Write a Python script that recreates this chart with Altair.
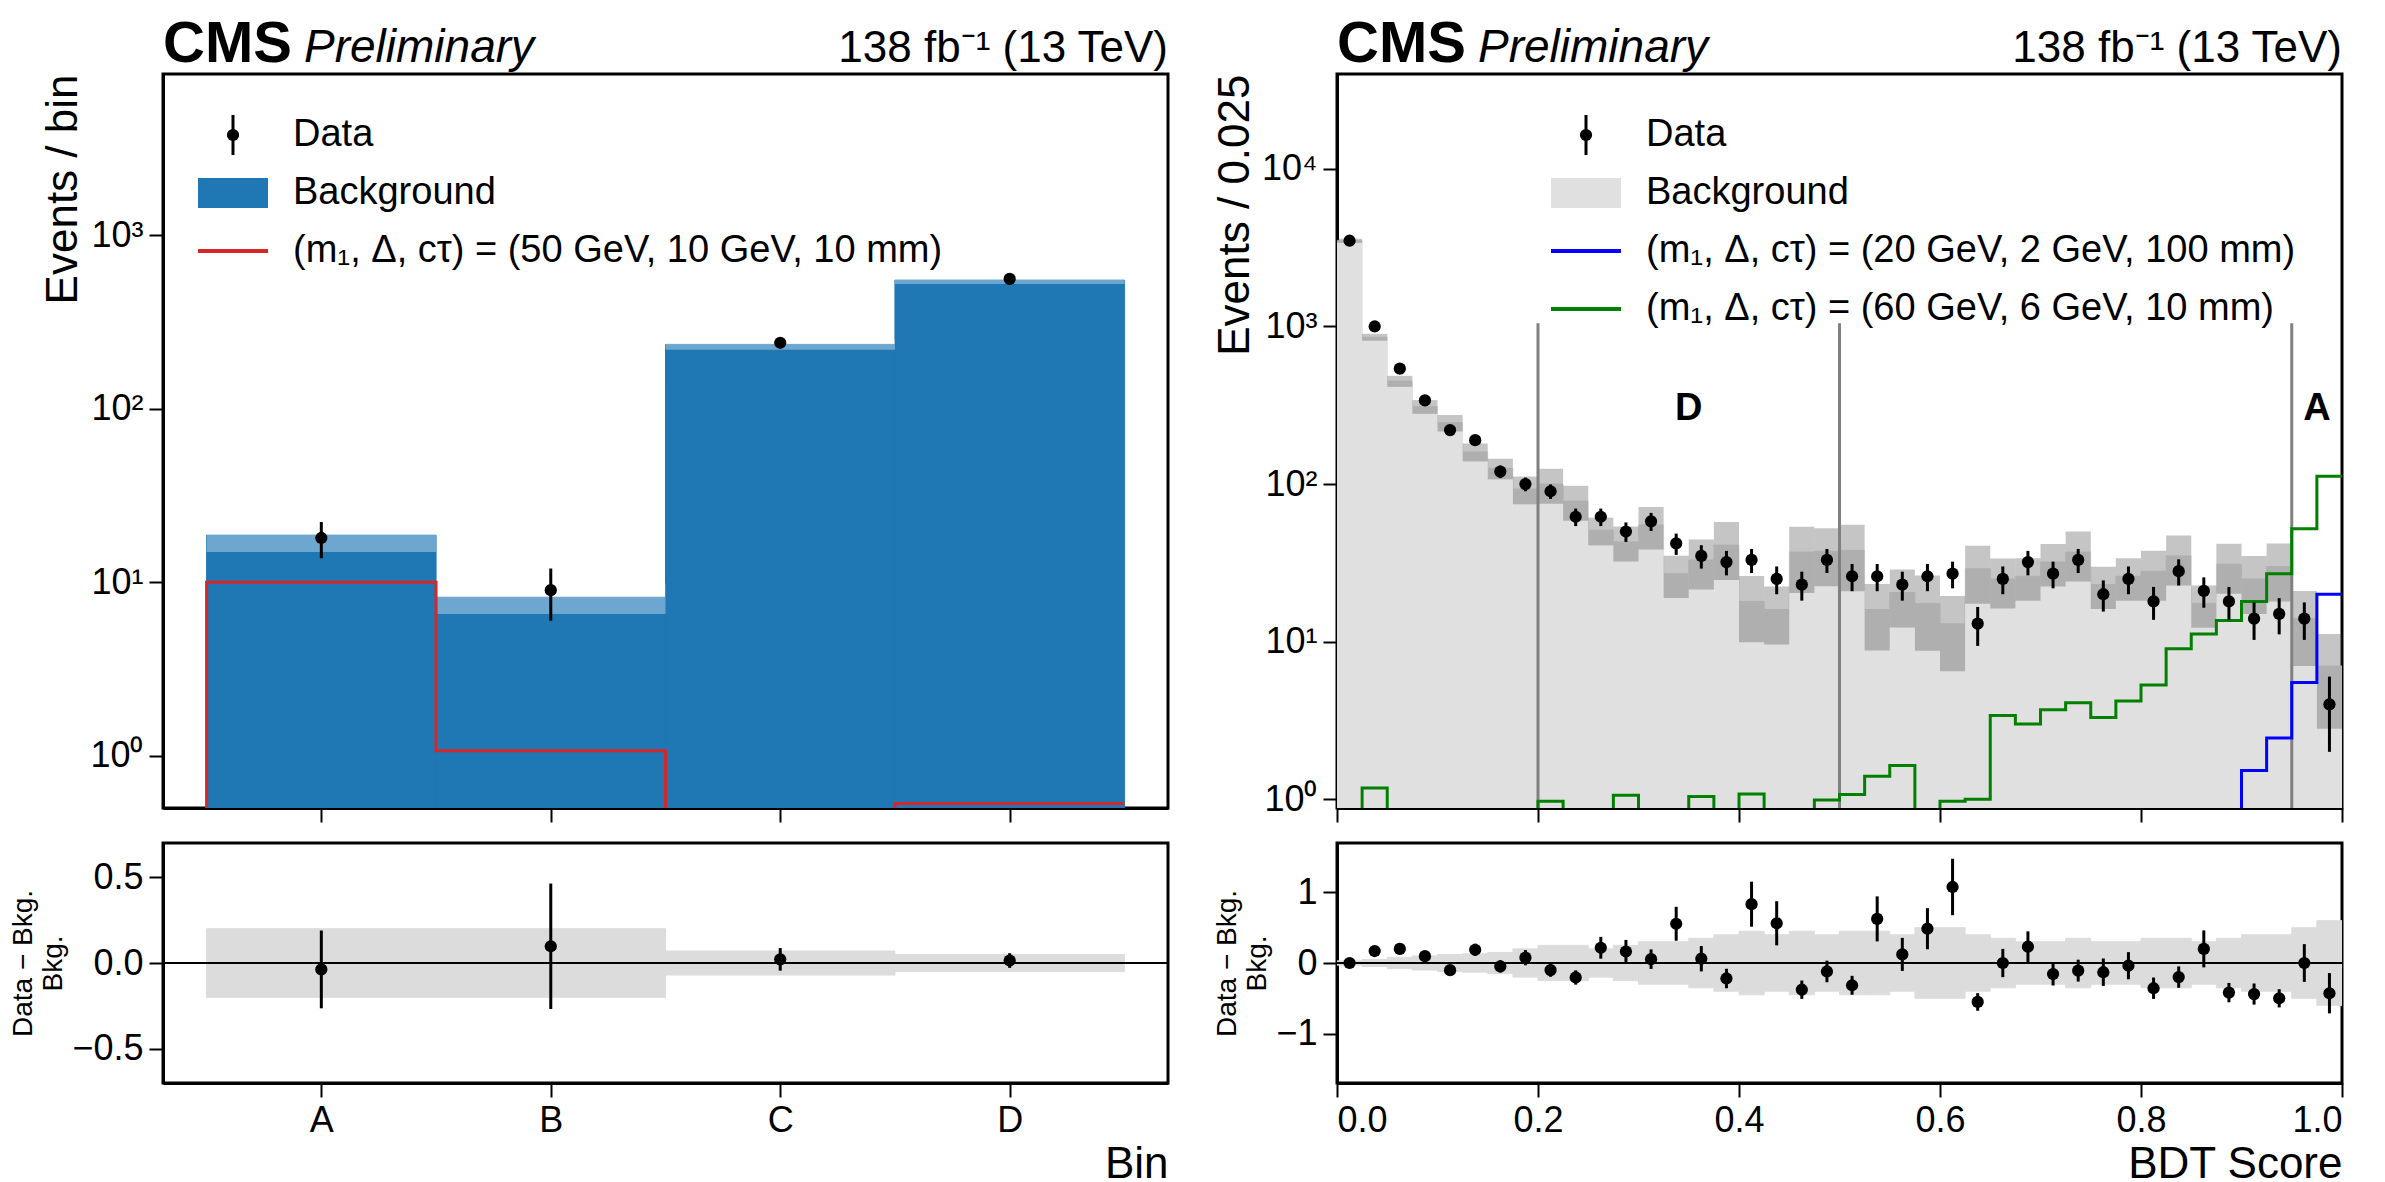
import numpy as np
import pandas as pd
import altair as alt

FONT = "Liberation Sans"
W, H, HR = 1005, 734, 240

# ---------------- left panel: ABCD bins ----------------
bin_names = ["A", "B", "C", "D"]
bin_lo = [-0.5, 0.5, 1.5, 2.5]
left_data = [18, 9, 240, 560]
left_bkg = [18.7, 8.2, 235, 552]
left_unc = [0.20, 0.20, 0.07, 0.05]
left_sig = [10, 1.07, 0.01, 0.53]

# ---------------- right panel: BDT score ----------------
bdt_lo = [i * 0.025 for i in range(40)]
bdt_data = [3500, 1000, 540, 340, 220, 190, 120, 100, 90, 62,
            62, 50, 58, 42, 35, 32, 33, 25, 23, 33,
            26, 26, 23, 26, 27, 13, 25, 32, 27, 33,
            20, 25, 18, 28, 21, 18, 14, 15, 14, 4]
bdt_bkg = [3500, 855, 450, 310, 245, 160, 126, 93, 100, 78,
           51, 43, 55, 27, 33, 41, 18, 16, 37, 37.5,
           38, 16, 20.5, 17.5, 13, 29, 25, 26, 32, 37,
           23, 26, 28, 35, 17.5, 31, 25, 30, 14, 7]
bdt_unc = [0.03, 0.05, 0.08, 0.10, 0.12, 0.13, 0.15, 0.20,
           0.25, 0.25, 0.20, 0.25, 0.30, 0.30, 0.35, 0.40,
           0.45, 0.40, 0.45, 0.40, 0.45, 0.45, 0.40, 0.50,
           0.50, 0.40, 0.35, 0.30, 0.30, 0.35, 0.30, 0.30,
           0.35, 0.35, 0.30, 0.35, 0.40, 0.40, 0.50, 0.60]
sig_green = [0.01, 1.18, 0.01, 0.01, 0.01, 0.01, 0.01, 0.01, 0.97, 0.01,
             0.01, 1.06, 0.01, 0.01, 1.04, 0.01, 1.08, 0.01, 0.01, 0.99,
             1.07, 1.4, 1.64, 0.01, 0.97, 1.0, 3.4, 3.0, 3.7, 4.1,
             3.3, 4.2, 5.3, 9.0, 11.2, 13.6, 18, 27, 52, 112]
sig_blue = [0.01] * 36 + [1.52, 2.45, 5.5, 20]
region_cuts = [0.2, 0.5, 0.95]
cut_top = 1050
region_labels = ["D", "A"]
region_label_x = [0.35, 0.975]
region_label_y = [300, 300]


def hist_frame(lo, width, data, bkg, unc):
    df = pd.DataFrame({"lo": lo, "data": data, "bkg": bkg, "unc": unc})
    df["hi"] = df["lo"] + width
    df["mid"] = df["lo"] + width / 2
    df["err"] = np.sqrt(df["data"])
    df["dlo"] = df["data"] - df["err"]
    df["dhi"] = df["data"] + df["err"]
    df["blo"] = df["bkg"] * (1 - df["unc"])
    df["bhi"] = df["bkg"] * (1 + df["unc"])
    df["ratio"] = (df["data"] - df["bkg"]) / df["bkg"]
    df["rlo"] = df["ratio"] - df["err"] / df["bkg"]
    df["rhi"] = df["ratio"] + df["err"] / df["bkg"]
    df["ulo"] = -df["unc"]
    df["uhi"] = df["unc"]
    return df


def step_frame(lo, width, vals):
    xs = [lo[0]] + list(lo) + [lo[-1] + width]
    ys = [0.01] + list(vals) + [vals[-1]]
    return pd.DataFrame({"x": xs, "y": ys})


log_expr = ("datum.value == 1 ? '10⁰' : datum.value == 10 ? '10¹' : datum.value == 100 ? '10²' "
            ": datum.value == 1000 ? '10³' : datum.value == 10000 ? '10⁴' : ''")


def legend_layer(entries, x0, y0, dy):
    layers = []
    one = pd.DataFrame({"a": [0]})
    for i, (kind, color, label) in enumerate(entries):
        yy = y0 + i * dy
        if kind == "data":
            layers.append(alt.Chart(one).mark_rule(color="black", strokeWidth=3).encode(
                x=alt.value(x0 + 35), y=alt.value(yy - 20), y2=alt.value(yy + 20)))
            layers.append(alt.Chart(one).mark_circle(color="black", size=150, opacity=1).encode(
                x=alt.value(x0 + 35), y=alt.value(yy)))
        elif kind == "fill":
            layers.append(alt.Chart(one).mark_rect(color=color).encode(
                x=alt.value(x0), x2=alt.value(x0 + 70), y=alt.value(yy - 15), y2=alt.value(yy + 15)))
        else:
            layers.append(alt.Chart(one).mark_rule(color=color, strokeWidth=4).encode(
                x=alt.value(x0), x2=alt.value(x0 + 70), y=alt.value(yy)))
        layers.append(alt.Chart(pd.DataFrame({"t": [label]})).mark_text(
            font=FONT, fontSize=38, align="left", baseline="middle").encode(
            x=alt.value(x0 + 95), y=alt.value(yy), text="t"))
    return layers


def header_layer():
    base = pd.DataFrame({"a": [0]})
    return [
        alt.Chart(base).mark_text(text="CMS", font=FONT, fontSize=58, fontWeight="bold",
                                  align="left", baseline="alphabetic").encode(x=alt.value(0), y=alt.value(-12)),
        alt.Chart(base).mark_text(text="Preliminary", font=FONT, fontSize=46, fontStyle="italic",
                                  align="left", baseline="alphabetic").encode(x=alt.value(141), y=alt.value(-12)),
        alt.Chart(base).mark_text(text="138 fb⁻¹ (13 TeV)", font=FONT, fontSize=44,
                                  align="right", baseline="alphabetic").encode(x=alt.value(W), y=alt.value(-12)),
    ]


def panel(df, sig_frames, xdom, ydom, yvals, ytitle, xtitle, rdom, rvals, xaxis_vals,
          xlabel_expr, bkg_color, hatch_color, hatch_opacity, legend_entries, extra=()):
    xs = alt.Scale(domain=xdom, nice=False, zero=False)
    ys = alt.Scale(type="log", domain=ydom, nice=False)
    x_noax = alt.X("lo:Q", scale=xs, axis=alt.Axis(values=xaxis_vals, labels=False, title=None))
    yax = alt.Axis(values=yvals, labelExpr=log_expr, title=ytitle, titleAnchor="end")

    bkg = alt.Chart(df).mark_rect(color=bkg_color, stroke=bkg_color, strokeWidth=1, clip=True).encode(
        x=x_noax, x2="hi", y=alt.Y("bkg:Q", scale=ys, axis=yax), y2=alt.value(H))
    hatch = alt.Chart(df).mark_rect(color=hatch_color, opacity=hatch_opacity, clip=True).encode(
        x="lo:Q", x2="hi", y="blo:Q", y2="bhi")
    layers = [bkg, hatch]
    layers += list(extra)
    for sdf, color in sig_frames:
        layers.append(alt.Chart(sdf).mark_line(color=color, strokeWidth=3, interpolate="step-after",
                                               clip=True).encode(x="x:Q", y="y:Q"))
    layers.append(alt.Chart(df).mark_rule(color="black", strokeWidth=3, clip=True).encode(
        x="mid:Q", y="dlo:Q", y2="dhi"))
    layers.append(alt.Chart(df).mark_circle(color="black", size=150, opacity=1, clip=True).encode(
        x="mid:Q", y="data:Q"))
    layers += legend_layer(*legend_entries)
    layers += header_layer()
    main = alt.layer(*layers).properties(width=W, height=H)

    rs = alt.Scale(domain=rdom, nice=False, zero=False)
    band = alt.Chart(df).mark_rect(color="#dcdcdc", stroke="#dcdcdc", strokeWidth=1, clip=True).encode(
        x=alt.X("lo:Q", scale=xs, axis=alt.Axis(values=xaxis_vals, labelExpr=xlabel_expr, title=xtitle,
                                                   titleAnchor="end")),
        x2="hi",
        y=alt.Y("ulo:Q", scale=rs, axis=alt.Axis(values=rvals, format=".1f" if rdom[1] < 1 else "d",
                                                    title=["Data − Bkg.", "Bkg."], titleFontSize=28)),
        y2="uhi")
    zero = alt.Chart(pd.DataFrame({"z": [0.0]})).mark_rule(color="black", strokeWidth=2).encode(y="z:Q")
    rerr = alt.Chart(df).mark_rule(color="black", strokeWidth=3, clip=True).encode(
        x="mid:Q", y="rlo:Q", y2="rhi")
    rpt = alt.Chart(df).mark_circle(color="black", size=150, opacity=1, clip=True).encode(
        x="mid:Q", y="ratio:Q")
    ratio = alt.layer(band, zero, rerr, rpt).properties(width=W, height=HR)
    return alt.vconcat(main, ratio, spacing=16)


# left
ldf = hist_frame(bin_lo, 1.0, left_data, left_bkg, left_unc)
left = panel(
    ldf, [(step_frame(bin_lo, 1.0, left_sig), "#d62728")],
    [-0.69, 3.69], [0.5, 8500], [1, 10, 100, 1000], "Events / bin", "Bin",
    [-0.7, 0.7], [-0.5, 0.0, 0.5], [0, 1, 2, 3],
    "['A','B','C','D'][datum.value]", "#1f77b4", "#ffffff", 0.35,
    ([("data", "black", "Data"), ("fill", "#1f77b4", "Background"),
      ("line", "#d62728", "(m₁, Δ, cτ) = (50 GeV, 10 GeV, 10 mm)")], 35, 61, 58))

# right
rdf = hist_frame(bdt_lo, 0.025, bdt_data, bdt_bkg, bdt_unc)
cuts = alt.Chart(pd.DataFrame({"c": region_cuts, "top": [cut_top] * 3})).mark_rule(
    color="#808080", strokeWidth=3).encode(x="c:Q", y="top:Q", y2=alt.value(H))
rlabels = alt.Chart(pd.DataFrame({"x": region_label_x, "t": region_labels, "y": region_label_y})).mark_text(
    font=FONT, fontSize=38, fontWeight="bold").encode(x="x:Q", y="y:Q", text="t")
right = panel(
    rdf, [(step_frame(bdt_lo, 0.025, sig_green), "#008000"), (step_frame(bdt_lo, 0.025, sig_blue), "#0000ff")],
    [0, 1], [0.88, 40000], [1, 10, 100, 1000, 10000], "Events / 0.025", "BDT Score",
    [-1.7, 1.7], [-1, 0, 1], [0, 0.2, 0.4, 0.6, 0.8, 1.0],
    "format(datum.value, '.1f')", "#e0e0e0", "#404040", 0.3,
    ([("data", "black", "Data"), ("fill", "#e0e0e0", "Background"),
      ("line", "#0000ff", "(m₁, Δ, cτ) = (20 GeV, 2 GeV, 100 mm)"),
      ("line", "#008000", "(m₁, Δ, cτ) = (60 GeV, 6 GeV, 10 mm)")], 214, 61, 58),
    extra=(cuts, rlabels))

chart = alt.hconcat(left, right, spacing=40).configure_axis(
    labelFont=FONT, titleFont=FONT, labelFontSize=36, titleFontSize=44, titleFontWeight="normal",
    domainColor="black", domainWidth=3, tickColor="black", tickWidth=2, tickSize=14,
    labelColor="black", titleColor="black", labelPadding=6, grid=False,
).configure_view(stroke="black", strokeWidth=3).properties(
    padding={"top": 6, "left": 0, "right": 0, "bottom": 0})

chart.save("out.html", embed_options={"renderer": "svg", "actions": False})
